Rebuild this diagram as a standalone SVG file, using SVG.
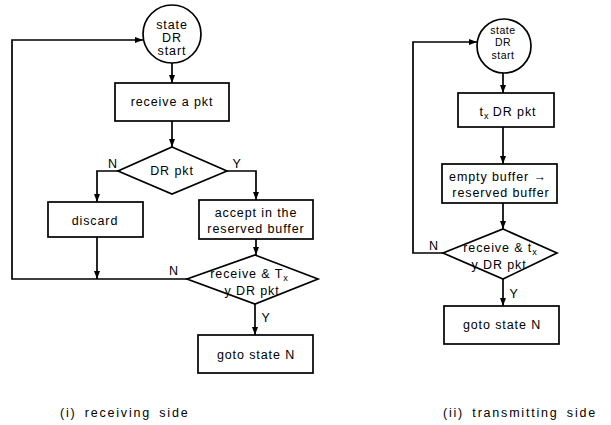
<svg xmlns="http://www.w3.org/2000/svg" width="611" height="425" viewBox="0 0 611 425">
<style>
.shape{fill:#fff;stroke:#000;stroke-width:1.7}
.conn{fill:none;stroke:#000;stroke-width:1.7}
text{font-family:"Liberation Sans",Arial,sans-serif;font-size:12.5px;fill:#000;text-anchor:middle;letter-spacing:0.9px}
.lbl{font-size:12.5px}
.sm{font-size:10.5px;letter-spacing:0.5px}
.cap{text-anchor:start;letter-spacing:1.8px;word-spacing:3px}
.sub{font-size:9px;letter-spacing:0}
</style>
<defs>
<marker id="ah" markerUnits="userSpaceOnUse" markerWidth="8" markerHeight="6" refX="8" refY="3" orient="auto">
<path d="M0,0 L8,3 L0,6 z" fill="#000"/>
</marker>
</defs>
<rect width="611" height="425" fill="#fff"/>
<g id="connectors">
<line class="conn" x1="172" y1="63" x2="172" y2="83" marker-end="url(#ah)"/>
<line class="conn" x1="172" y1="121" x2="172" y2="147" marker-end="url(#ah)"/>
<polyline class="conn" points="118,171 97,171 97,202" marker-end="url(#ah)"/>
<polyline class="conn" points="227,171 256,171 256,200" marker-end="url(#ah)"/>
<line class="conn" x1="97" y1="237" x2="97" y2="279" marker-end="url(#ah)"/>
<line class="conn" x1="256" y1="239" x2="256" y2="255" marker-end="url(#ah)"/>
<polyline class="conn" points="187,279 12,279 12,40 143,40" marker-end="url(#ah)"/>
<line class="conn" x1="255" y1="304" x2="255" y2="335" marker-end="url(#ah)"/>
<line class="conn" x1="503" y1="73" x2="503" y2="93" marker-end="url(#ah)"/>
<line class="conn" x1="503" y1="127" x2="503" y2="164" marker-end="url(#ah)"/>
<line class="conn" x1="503" y1="203" x2="503" y2="229" marker-end="url(#ah)"/>
<polyline class="conn" points="443,253 413,253 413,42 477,42" marker-end="url(#ah)"/>
<line class="conn" x1="503" y1="279" x2="503" y2="306" marker-end="url(#ah)"/>
<text class="lbl" x="113" y="168">N</text>
<text class="lbl" x="237" y="168">Y</text>
<text class="lbl" x="174" y="275">N</text>
<text class="lbl" x="266" y="322">Y</text>
<text class="lbl" x="434" y="250">N</text>
<text class="lbl" x="514" y="298">Y</text>
</g>
<g id="l-start">
<circle class="shape" cx="172" cy="34" r="29"/>
<text x="172" y="29">state</text>
<text x="172" y="42">DR</text>
<text x="172" y="55">start</text>
</g>
<g id="l-receive">
<rect class="shape" x="115" y="83" width="114" height="38"/>
<text x="172" y="106">receive a pkt</text>
</g>
<g id="l-drpkt">
<polygon class="shape" points="172,147 227,171 172,194 118,171"/>
<text x="172" y="175">DR pkt</text>
</g>
<g id="l-discard">
<rect class="shape" x="48" y="202" width="95" height="35"/>
<text x="95" y="225">discard</text>
</g>
<g id="l-accept">
<rect class="shape" x="199" y="200" width="114" height="39"/>
<text x="256" y="217">accept in the</text>
<text x="256" y="233">reserved buffer</text>
</g>
<g id="l-check">
<polygon class="shape" points="255,255 318,279 255,304 187,279"/>
<text x="249" y="278">receive &amp; T<tspan class="sub" dy="3">x</tspan></text>
<text x="252" y="295">y DR pkt</text>
</g>
<g id="l-goto">
<rect class="shape" x="198" y="335" width="115" height="38"/>
<text x="256" y="359">goto state N</text>
</g>
<g id="r-start">
<circle class="shape" cx="504" cy="46" r="27"/>
<text class="sm" x="503" y="33.5">state</text>
<text class="sm" x="503" y="46">DR</text>
<text class="sm" x="503" y="58.5">start</text>
</g>
<g id="r-tx">
<rect class="shape" x="458" y="93" width="96" height="34"/>
<text x="508" y="116">t<tspan class="sub" dy="3">x</tspan><tspan dy="-3"> DR  pkt</tspan></text>
</g>
<g id="r-empty">
<rect class="shape" x="442" y="164" width="115" height="39"/>
<text x="498" y="181">empty buffer →</text>
<text x="501" y="197">reserved buffer</text>
</g>
<g id="r-check">
<polygon class="shape" points="503,229 557,253 503,279 443,253"/>
<text x="500" y="252">receive &amp; t<tspan class="sub" dy="3">x</tspan></text>
<text x="499" y="269">y DR pkt</text>
</g>
<g id="r-goto">
<rect class="shape" x="444" y="306" width="115" height="38"/>
<text x="502" y="329">goto state N</text>
</g>
<g id="captions">
<text class="cap" x="60" y="417">(i) receiving side</text>
<text class="cap" x="443" y="417">(ii) transmitting side</text>
</g>
</svg>
